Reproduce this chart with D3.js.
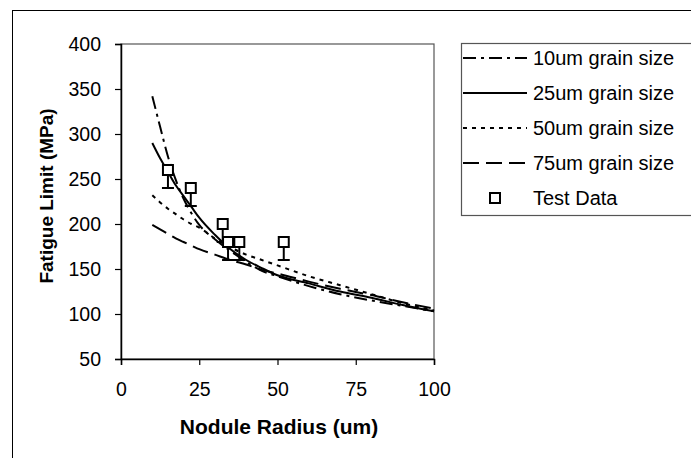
<!DOCTYPE html>
<html>
<head>
<meta charset="utf-8">
<script src="https://cdn.jsdelivr.net/npm/d3@7"></script>
<style>
  body { margin: 0; background: #fff; }
  svg text { font-family: "Liberation Sans", Arial, sans-serif; fill: #000; }
</style>
</head>
<body>
<svg id="chart" width="691" height="458"></svg>
<script>
// nodule radius samples (um)
const radius = [10, 12.5, 15, 17.5, 20, 22.5, 25, 30, 35, 40, 45, 50, 60, 70, 80, 90, 100];

// fatigue limit (MPa) per grain size
const grain10 = [342, 308, 275, 249, 228, 212, 199, 183, 170, 158, 148, 142, 131, 122, 115, 109, 103];
const grain25 = [290, 273, 258, 243, 231, 219, 207, 188, 172, 160, 151, 143, 134, 125, 118, 110, 103];
const grain50 = [232, 224, 217, 211, 205, 200, 196, 184, 174, 166, 160, 154, 142, 132, 122, 112, 104];
const grain75 = [199, 194, 189, 184, 180, 176, 172, 166, 160, 155, 149, 145, 136, 128, 121, 113, 106];

const testX = [15, 22.3, 32.5, 34.2, 37.8, 52];
const testY = [260, 240, 200, 180, 180, 180];
const testErr = [20, 20, 20, 20, 20, 20];

const xTicks = [0, 25, 50, 75, 100];
const yTicks = [50, 100, 150, 200, 250, 300, 350, 400];

const seriesNames = ["10um grain size", "25um grain size", "50um grain size", "75um grain size"];
const seriesDash = ["13,5,3,5", null, "4,5", "16,7"];

const svg = d3.select("#chart");

// chart area border (runs off the right and bottom of the picture)
svg.append("rect")
  .attr("x", 12.5).attr("y", 10.5)
  .attr("width", 720).attr("height", 480)
  .attr("fill", "none").attr("stroke", "#000").attr("stroke-width", 1);

const plotL = 121, plotR = 434, plotT = 44, plotB = 359;

const x = d3.scaleLinear().domain([0, 100]).range([plotL, plotR]);
const y = d3.scaleLinear().domain([50, 400]).range([plotB, plotT]);

// plot frame
svg.append("rect")
  .attr("x", plotL).attr("y", plotT)
  .attr("width", plotR - plotL).attr("height", plotB - plotT)
  .attr("fill", "none").attr("stroke", "#555").attr("stroke-width", 1.2);

const xAxis = svg.append("g")
  .attr("transform", "translate(0," + plotB + ")")
  .call(d3.axisBottom(x).tickValues(xTicks).tickSize(6).tickPadding(17));
const yAxis = svg.append("g")
  .attr("transform", "translate(" + plotL + ",0)")
  .call(d3.axisLeft(y).tickValues(yTicks).tickSize(6).tickPadding(14));

[xAxis, yAxis].forEach(function(a) {
  a.selectAll("path").attr("stroke", "#000").attr("stroke-width", 1.5);
  a.selectAll("line").attr("stroke", "#000").attr("stroke-width", 1.2);
  a.selectAll("text").style("font-size", "19.5px").attr("fill", "#000")
    .style("font-family", '"Liberation Sans", Arial, sans-serif');
});

svg.append("text")
  .attr("x", 279).attr("y", 434)
  .attr("text-anchor", "middle")
  .style("font-size", "21px").style("font-weight", "bold")
  .text("Nodule Radius (um)");

svg.append("text")
  .attr("transform", "translate(53,196) rotate(-90)")
  .attr("text-anchor", "middle")
  .style("font-size", "19px").style("font-weight", "bold")
  .text("Fatigue Limit (MPa)");

const line = d3.line()
  .x(function(d) { return x(d[0]); })
  .y(function(d) { return y(d[1]); })
  .curve(d3.curveMonotoneX);

[grain10, grain25, grain50, grain75].forEach(function(vals, i) {
  svg.append("path")
    .datum(radius.map(function(r, j) { return [r, vals[j]]; }))
    .attr("d", line)
    .attr("fill", "none")
    .attr("stroke", "#000")
    .attr("stroke-width", 2)
    .attr("stroke-dasharray", seriesDash[i]);
});

// error bars (minus only) and square markers
testX.forEach(function(tx, i) {
  const cx = x(tx), cy = y(testY[i]), lo = y(testY[i] - testErr[i]);
  svg.append("line")
    .attr("x1", cx).attr("x2", cx).attr("y1", cy).attr("y2", lo)
    .attr("stroke", "#000").attr("stroke-width", 2);
  svg.append("line")
    .attr("x1", cx - 6).attr("x2", cx + 6).attr("y1", lo).attr("y2", lo)
    .attr("stroke", "#000").attr("stroke-width", 2);
  svg.append("rect")
    .attr("x", cx - 5).attr("y", cy - 5).attr("width", 10).attr("height", 10)
    .attr("fill", "#fff").attr("stroke", "#000").attr("stroke-width", 2);
});

// legend
const lgX = 461, lgY = 43, rowH = 35;
svg.append("rect")
  .attr("x", lgX + 0.5).attr("y", lgY + 0.5)
  .attr("width", 300).attr("height", 172)
  .attr("fill", "#fff").attr("stroke", "#555").attr("stroke-width", 1.2);

seriesNames.concat(["Test Data"]).forEach(function(name, i) {
  const ry = lgY + 15 + i * rowH;
  if (i < 4) {
    svg.append("line")
      .attr("x1", lgX + 2).attr("x2", lgX + 66).attr("y1", ry).attr("y2", ry)
      .attr("stroke", "#000").attr("stroke-width", 2)
      .attr("stroke-dasharray", seriesDash[i]);
  } else {
    svg.append("rect")
      .attr("x", lgX + 29).attr("y", ry - 5).attr("width", 10).attr("height", 10)
      .attr("fill", "#fff").attr("stroke", "#000").attr("stroke-width", 2);
  }
  svg.append("text")
    .attr("x", lgX + 72).attr("y", ry)
    .attr("dy", "0.35em")
    .style("font-size", "20px")
    .text(name);
});
</script>
</body>
</html>
